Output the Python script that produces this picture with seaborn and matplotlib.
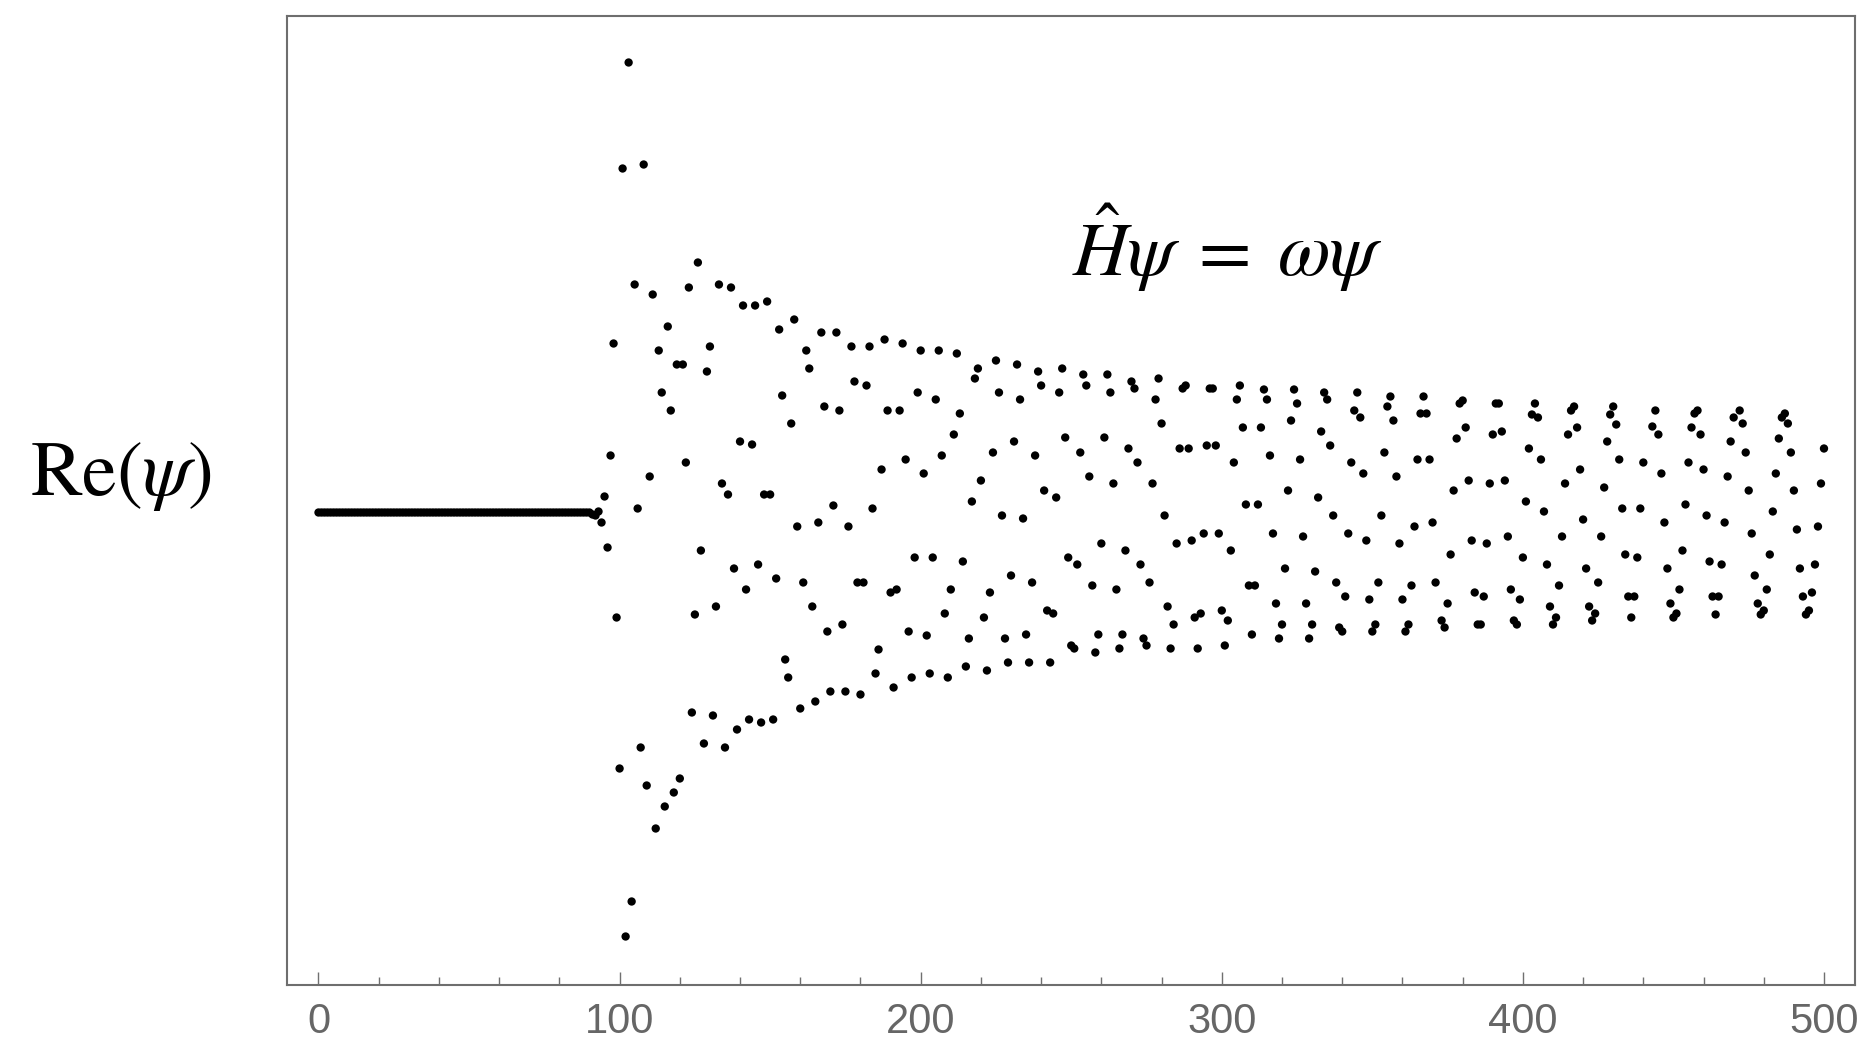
import numpy as np
import pandas as pd
import matplotlib
matplotlib.use("Agg")
import matplotlib.pyplot as plt
import seaborn as sns
from matplotlib.ticker import MultipleLocator

# ---------------- data (Re(psi) at lattice site n, arbitrary units) ----------------
flat_start = 0
flat_vals = [0.0] * 91 + [-0.02, -0.03, 0.01]

segB_start = 94
segB_vals = [-0.10, 0.16, -0.35, 0.57, 1.69, -1.05, -2.56, 3.44, -4.24, 4.50,
             -3.89, 2.28, 0.04, -2.35, 3.48, -2.73, 0.36, 2.18, -3.16, 1.62,
             1.20, -2.94, 1.86, 1.02, -2.80, 1.48, -2.66, 1.48, 0.50, 2.25,
             -2.00, -1.02, 2.50, -0.38, -2.31, 1.41, 1.66, -2.03, -0.94, 2.28,
             0.29, -2.35, 0.18, 2.25, -0.56, -2.17, 0.71, 2.07, -0.77, -2.07,
             0.68, 2.07, -0.52, -2.10, 0.18, 2.11, 0.18, -2.07, -0.66, 1.83]

segC_start = 154
segC_vals = [1.17, -1.47, -1.65, 0.89, 1.93, -0.14, -1.96, -0.70, 1.62, 1.44,
             -0.94, -1.89, -0.10, 1.80, 1.06, -1.19, -1.79, 0.07, 1.80, 1.02,
             -1.12, -1.79, -0.14, 1.66, 1.31, -0.70, -1.82, -0.70, 1.27, 1.66,
             0.04, -1.61, -1.37, 0.43, 1.73, 1.02, -0.80, -1.75, -0.77, 1.02,
             1.69, 0.53, -1.19, -1.65, -0.45, 1.20, 1.62, 0.39, -1.23, -1.61,
             -0.45, 1.13, 1.62, 0.57, -1.01, -1.65, -0.77, 0.78, 1.59, 0.99,
             -0.49, -1.54, -1.26, 0.11, 1.34, 1.44, 0.32, -1.05, -1.58, -0.80,
             0.60, 1.52, 1.20, -0.03]

segD_start = 228
segD_vals = [-1.26, -1.50, -0.63, 0.71, 1.48, 1.13, -0.06, -1.22, -1.50, -0.70,
             0.57, 1.41, 1.27, 0.22, -0.98, -1.50, -1.01, 0.15, 1.20, 1.44,
             0.75, -0.45, -1.33, -1.36, -0.52, 0.60, 1.38, 1.27, 0.36, -0.73,
             -1.40, -1.22, -0.31, 0.75, 1.38, 1.20, 0.29, -0.77, -1.36, -1.22,
             -0.38, 0.64, 1.31, 1.24, 0.50, -0.52, -1.26, -1.33, -0.70, 0.29,
             1.13, 1.34, 0.89, -0.03, -0.94, -1.36, -1.12, -0.31, 0.64, 1.24,
             1.27, 0.64, -0.28, -1.05, -1.36, -1.01, -0.21, 0.67, 1.24, 1.24,
             0.67, -0.21]

segE_start = 300
segE_vals = [-0.98, -1.33, -1.08, -0.38, 0.50, 1.13, 1.27, 0.85, 0.08, -0.73,
             -1.22, -0.73, 0.08, 0.85, 1.23, 1.13, 0.57, -0.21, -0.91, -1.26,
             -1.12, -0.56, 0.22, 0.92, 1.23, 1.09, 0.53, -0.24, -0.91, -1.26,
             -1.12, -0.59, 0.15, 0.81, 1.20, 1.13, 0.67, -0.03, -0.70, -1.15,
             -1.19, -0.84, -0.21, 0.50, 1.02, 1.20, 0.95, 0.39, -0.28, -0.87,
             -1.19, -1.12, -0.70, -0.03, 0.60, 1.06, 1.16, 0.92, 0.36, -0.31,
             -0.87, -1.19, -1.12, -0.73, -0.14, 0.53, 0.99, 1.16, 0.99, 0.53,
             -0.10, -0.70]

segF_start = 373
segF_vals = [-1.08, -1.15, -0.91, -0.42, 0.22, 0.74, 1.09, 1.12, 0.85, 0.32,
             -0.28, -0.80, -1.12, -1.12, -0.84, -0.31, 0.29, 0.78, 1.09, 1.09,
             0.81, 0.32, -0.24, -0.77, -1.08, -1.12, -0.87, -0.45, 0.11, 0.64,
             0.98, 1.09, 0.95, 0.53, 0.01, -0.52, -0.94, -1.12, -1.05, -0.73,
             -0.24, 0.29, 0.78, 1.02, 1.06, 0.85, 0.43, -0.07, -0.56, -0.94,
             -1.08, -1.01, -0.70, -0.24, 0.25, 0.71, 0.98, 1.06, 0.88, 0.53,
             0.04, -0.42, -0.84, -1.05, -0.84, -0.45, 0.04, 0.50]

segG_start = 443
segG_vals = [0.86, 1.02, 0.78, 0.39, -0.10, -0.56, -0.91, -1.05, -1.01, -0.77,
             -0.38, 0.08, 0.50, 0.85, 0.99, 1.02, 0.78, 0.43, -0.03, -0.49,
             -0.84, -1.02, -0.84, -0.52, -0.10, 0.36, 0.71, 0.95]

segH_start = 472
segH_vals = [1.02, 0.89, 0.60, 0.22, -0.21, -0.63, -0.91, -1.02, -0.98, -0.77,
             -0.42, 0.01, 0.39, 0.74, 0.95, 0.99, 0.89, 0.60, 0.22, -0.17,
             -0.56, -0.84, -1.02, -0.98, -0.80, -0.52, -0.14, 0.29, 0.64]

x_major_ticks = [0, 100, 200, 300, 400, 500]
x_tick_labels = ["0", "100", "200", "300", "400", "500"]
y_label_text = r"$\mathrm{Re}(\psi)$"
equation_text = r"$\hat{H}\psi\;=\;\omega\psi$"

segments = [(flat_start, flat_vals), (segB_start, segB_vals), (segC_start, segC_vals),
            (segD_start, segD_vals), (segE_start, segE_vals), (segF_start, segF_vals),
            (segG_start, segG_vals), (segH_start, segH_vals)]

rows = []
for start, vals in segments:
    for i, v in enumerate(vals):
        rows.append((start + i, v))
df = pd.DataFrame(rows, columns=["n", "re"])

# ---------------- style ----------------
sns.set_style("white")
plt.rcParams["font.family"] = ["Liberation Sans", "DejaVu Sans"]
plt.rcParams["mathtext.fontset"] = "stix"

W, H = 1865, 1050
fig = plt.figure(figsize=(W / 100, H / 100), dpi=100)
ax = fig.add_axes([287 / W, 1 - 985 / H, (1855 - 287) / W, (985 - 16) / H])

sns.scatterplot(data=df, x="n", y="re", ax=ax, color="black", s=36,
                linewidth=0, edgecolor="none", legend=False, zorder=3)

ax.set_xlim(-10.46, 510.3)
ax.set_ylim(-4.725, 4.965)
ax.set_xlabel("")
ax.set_ylabel("")
ax.set_yticks([])
ax.set_xticks(x_major_ticks)
ax.set_xticklabels(x_tick_labels)
ax.xaxis.set_minor_locator(MultipleLocator(20))
ax.tick_params(axis="x", which="major", direction="in", length=9.5, width=1.0,
               color="#707070", labelsize=30, labelcolor="#666666", pad=12,
               bottom=True, top=False)
ax.tick_params(axis="x", which="minor", direction="in", length=6, width=1.0,
               color="#707070", bottom=True, top=False)
for sp in ax.spines.values():
    sp.set_color("#6e6e6e")
    sp.set_linewidth(1.5)
    sp.set_visible(True)

fig.text(30 / W, 1 - 495 / H, y_label_text, fontsize=56, ha="left", va="baseline",
         color="black")
ax.text(302, 2.37, equation_text, fontsize=55, ha="center", va="baseline", color="black")

fig.savefig("out.png", dpi=100, facecolor="white")
